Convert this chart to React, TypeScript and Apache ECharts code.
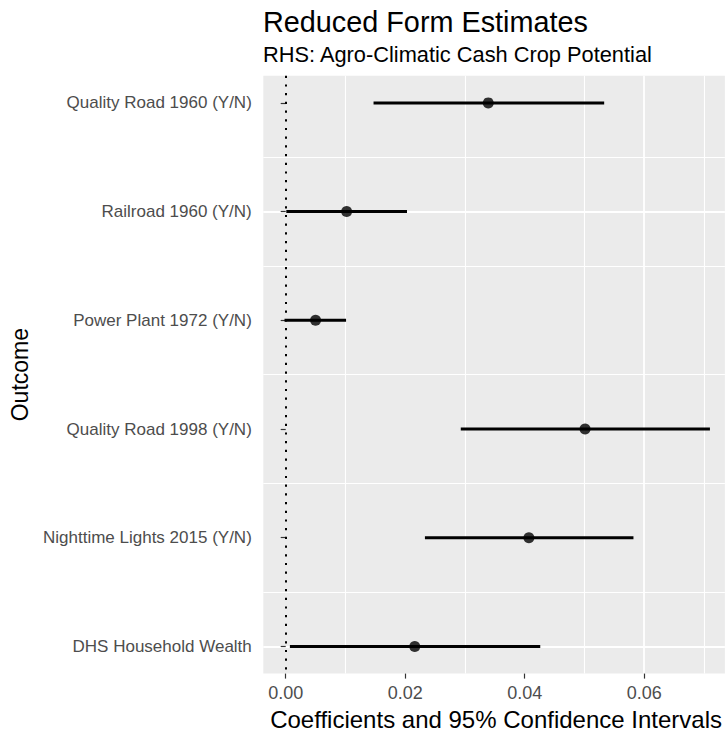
import React, { useEffect, useRef } from 'react';
import * as echarts from 'echarts';

const categories = [
  'Quality Road 1960 (Y/N)',
  'Railroad 1960 (Y/N)',
  'Power Plant 1972 (Y/N)',
  'Quality Road 1998 (Y/N)',
  'Nighttime Lights 2015 (Y/N)',
  'DHS Household Wealth',
];
const estimates = [0.0339, 0.0102, 0.005, 0.0501, 0.0407, 0.0216];
const lowerCI = [0.0147, 0.0001, -0.0002, 0.0293, 0.0233, 0.0007];
const upperCI = [0.0533, 0.0203, 0.0101, 0.071, 0.0582, 0.0426];
const rowPositions = [1, 2, 3, 4, 5, 6];
const xTickValues = [0, 0.02, 0.04, 0.06];

const titleText = 'Reduced Form Estimates';
const subtitleText = 'RHS: Agro-Climatic Cash Crop Potential';
const xTitle = 'Coefficients and 95% Confidence Intervals';
const yTitle = 'Outcome';

const FONT = '"Liberation Sans", Arial, Helvetica, sans-serif';

export default function App() {
  const ref = useRef<HTMLDivElement>(null);

  useEffect(() => {
    document.body.style.margin = '0';
    document.body.style.overflow = 'hidden';
    const chart = echarts.init(ref.current!, null, { renderer: 'svg' });

    const X_MIN = -0.00375;
    const X_MAX = 0.0735;
    const X_STEP = 0.00125;
    const Y_MIN = 0.75;
    const Y_MAX = 6.25;
    const Y_STEP = 0.25;
    const N = 'rgba(0,0,0,0)';
    const W = '#FFFFFF';
    const xMajorColors = Array.from({ length: 16 }, (_, k) => (k === 3 ? W : N));
    const xMinorColors = Array.from({ length: 16 }, (_, k) => (k === 11 ? W : N));
    const yMajorColors = [N, W, N, N];
    const yMinorColors = [N, N, N, W];

    const hidden = {
      axisLine: { show: false },
      axisTick: { show: false },
      axisLabel: { show: false },
    };

    chart.setOption({
      animation: false,
      backgroundColor: '#FFFFFF',
      title: [
        {
          text: titleText,
          left: 263,
          top: 7.5,
          padding: 0,
          textStyle: { fontFamily: FONT, fontSize: 28.8, fontWeight: 'normal', color: '#000' },
        },
        {
          text: subtitleText,
          left: 263,
          top: 43,
          padding: 0,
          textStyle: { fontFamily: FONT, fontSize: 21.8, fontWeight: 'normal', color: '#000' },
        },
      ],
      grid: {
        left: 263.3,
        right: 0,
        top: 75.7,
        bottom: 60.3,
        show: true,
        backgroundColor: '#EBEBEB',
        borderWidth: 0,
        containLabel: false,
      },
      xAxis: [
        {
          type: 'value',
          min: X_MIN,
          max: X_MAX,
          interval: X_STEP,
          name: xTitle,
          nameLocation: 'middle',
          nameGap: 30,
          nameTextStyle: { fontFamily: FONT, fontSize: 24, color: '#000', padding: [0, 0, 0, 4] },
          axisLine: { show: false },
          axisTick: {
            show: true,
            customValues: xTickValues,
            length: 5,
            lineStyle: { color: '#333333', width: 1.2 },
          },
          axisLabel: {
            show: true,
            customValues: xTickValues,
            margin: 10.5,
            fontFamily: FONT,
            fontSize: 18,
            color: '#4D4D4D',
            formatter: (v: number) => v.toFixed(2),
          },
          splitLine: { show: true, lineStyle: { color: xMajorColors, width: 1.8 } },
        },
        {
          type: 'value',
          min: X_MIN,
          max: X_MAX,
          interval: X_STEP,
          ...hidden,
          splitLine: { show: true, lineStyle: { color: xMinorColors, width: 1.1 } },
        },
      ],
      yAxis: [
        {
          type: 'value',
          min: Y_MIN,
          max: Y_MAX,
          interval: Y_STEP,
          inverse: true,
          position: 'left',
          name: yTitle,
          nameLocation: 'middle',
          nameRotate: 90,
          nameGap: 232,
          nameTextStyle: { fontFamily: FONT, fontSize: 23, color: '#000' },
          axisLine: { show: false },
          axisTick: {
            show: true,
            customValues: rowPositions,
            length: 5,
            lineStyle: { color: '#333333', width: 1.2 },
          },
          axisLabel: {
            show: true,
            customValues: rowPositions,
            margin: 11.5,
            fontFamily: FONT,
            fontSize: 17,
            color: '#4D4D4D',
            formatter: (v: number) => categories[Math.round(v) - 1] ?? '',
          },
          splitLine: { show: true, lineStyle: { color: yMajorColors, width: 1.8 } },
        },
        {
          type: 'value',
          min: Y_MIN,
          max: Y_MAX,
          interval: Y_STEP,
          inverse: true,
          position: 'left',
          ...hidden,
          splitLine: { show: true, lineStyle: { color: yMinorColors, width: 1.1 } },
        },
      ],
      series: [
        {
          type: 'custom',
          xAxisIndex: 0,
          yAxisIndex: 0,
          z: 3,
          silent: true,
          encode: { x: [0, 1], y: 2 },
          data: categories.map((_, i) => [lowerCI[i], upperCI[i], rowPositions[i]]),
          renderItem: (params: any, api: any) => {
            const p1 = api.coord([api.value(0), api.value(2)]);
            const p2 = api.coord([api.value(1), api.value(2)]);
            return {
              type: 'line',
              shape: { x1: p1[0], y1: p1[1], x2: p2[0], y2: p2[1] },
              style: { stroke: '#000000', lineWidth: 3, lineCap: 'butt' },
            };
          },
          markLine: {
            silent: true,
            symbol: ['none', 'none'],
            label: { show: false },
            lineStyle: { color: '#000000', width: 2, type: [2.2, 6.5], cap: 'butt' },
            data: [{ xAxis: 0 }],
          },
        },
        {
          type: 'scatter',
          xAxisIndex: 0,
          yAxisIndex: 0,
          z: 4,
          silent: true,
          symbol: 'circle',
          symbolSize: 11,
          itemStyle: { color: '#000000' },
          data: estimates.map((v, i) => [v, rowPositions[i]]),
        },
      ],
    });

    return () => {
      chart.dispose();
    };
  }, []);

  return <div ref={ref} style={{ width: 725, height: 736 }} />;
}
